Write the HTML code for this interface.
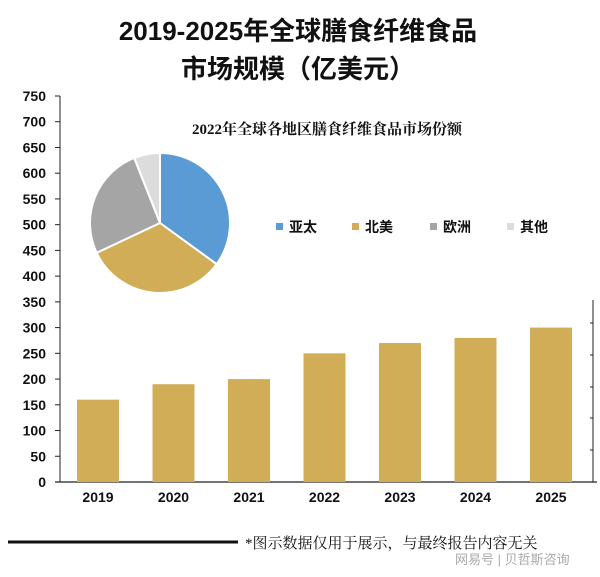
<!DOCTYPE html>
<html><head><meta charset="utf-8"><style>
body{margin:0;background:#fff;}
svg text{font-family:"Liberation Sans","Noto Sans CJK SC",sans-serif;}
svg text.serif{font-family:"Liberation Serif","Noto Serif CJK SC",serif;}
</style></head><body>
<svg width="600" height="572" viewBox="0 0 600 572" id="c">
<text x="298" y="40" text-anchor="middle" font-size="26" font-weight="bold" fill="#111">2019-2025年全球膳食纤维食品</text>
<text x="298" y="78" text-anchor="middle" font-size="26" font-weight="bold" fill="#111">市场规模（亿美元）</text>
<g id="axes"></g>
<g id="bars"></g>
<g id="pie"></g>
<text class="serif" x="327" y="134" text-anchor="middle" font-size="15" font-weight="bold" fill="#111">2022年全球各地区膳食纤维食品市场份额</text>
<g id="legend"></g>
<line x1="8" y1="542" x2="238" y2="542" stroke="#111" stroke-width="3"/>
<text class="serif" x="245" y="548" font-size="15" fill="#111">*图示数据仅用于展示，与最终报告内容无关</text>
<text x="455" y="564" font-size="13" fill="#aaa">网易号 | 贝哲斯咨询</text>
</svg>
<script>
const years=["2019","2020","2021","2022","2023","2024","2025"];
const sizes=[160,190,200,250,270,280,300];
const yTicks=[0,50,100,150,200,250,300,350,400,450,500,550,600,650,700,750];
const regions=["亚太","北美","欧洲","其他"];
const shares=[35,33,26,6];
const colors=["#5b9bd5","#d1ad58","#a5a5a5","#dcdcdc"];
const NS="http://www.w3.org/2000/svg";
function mk(tag,attrs,parent,txt){const e=document.createElementNS(NS,tag);for(const k in attrs)e.setAttribute(k,attrs[k]);if(txt!==undefined)e.textContent=txt;parent.appendChild(e);return e;}
const y0=482,yTop=96,vMax=750;
const y=v=>y0-(v/vMax)*(y0-yTop);
const x=i=>98+i*75.5;
const ax=document.getElementById('axes');
let l=mk('line',{x1:60,y1:yTop,x2:60,y2:y0,stroke:'#222','stroke-width':1},ax);


l=mk('line',{x1:55,y1:y0,x2:597,y2:y0,stroke:'#222','stroke-width':1.2},ax);


l=mk('line',{x1:593,y1:300,x2:593,y2:y0,stroke:'#222','stroke-width':1},ax);


[323,355,387,418,450].forEach(t=>mk('line',{x1:590,y1:t,x2:593,y2:t,stroke:'#222'},ax));
yTicks.forEach(v=>{
 mk('line',{x1:55,y1:y(v),x2:60,y2:y(v),stroke:'#222'},ax);
 const t=mk('text',{x:46,y:y(v)+5,'text-anchor':'end','font-size':14,'font-weight':'bold',fill:'#111'},ax,v);
 
 
});
const bg=document.getElementById('bars');
years.forEach((yr,i)=>{
 const r=mk('rect',{x:x(i)-21,y:y(sizes[i]),width:42,height:y0-y(sizes[i]),fill:'#d1ad58'},bg);
 
 
 const t=mk('text',{x:x(i),y:502,'text-anchor':'middle','font-size':14,'font-weight':'bold',fill:'#111'},bg,yr);
 
 
});
const pg=document.getElementById('pie');
const cx=160,cy=223,R=70;const tot=shares.reduce((a,b)=>a+b,0);
let a0=0;
shares.forEach((s,i)=>{
 const a1=a0+s/tot*2*Math.PI;
 const p=(a)=>[cx+R*Math.sin(a),cy-R*Math.cos(a)];
 const [x0,y0p]=p(a0),[x1,y1]=p(a1);
 const path=mk('path',{d:`M${cx},${cy}L${x0},${y0p}A${R},${R} 0 ${a1-a0>Math.PI?1:0} 1 ${x1},${y1}Z`,fill:colors[i],stroke:'#fff','stroke-width':2},pg);
 
 
 a0=a1;
});
const lg=document.getElementById('legend');
const lx=[276,352,430,507];
regions.forEach((r,i)=>{
 const s=mk('rect',{x:lx[i],y:223,width:7,height:7,fill:colors[i]},lg);
 
 
 const t=mk('text',{x:lx[i]+13,y:232,'font-size':14,'font-weight':'bold',fill:'#111'},lg,r);
 
 
});
</script>
</body></html>
